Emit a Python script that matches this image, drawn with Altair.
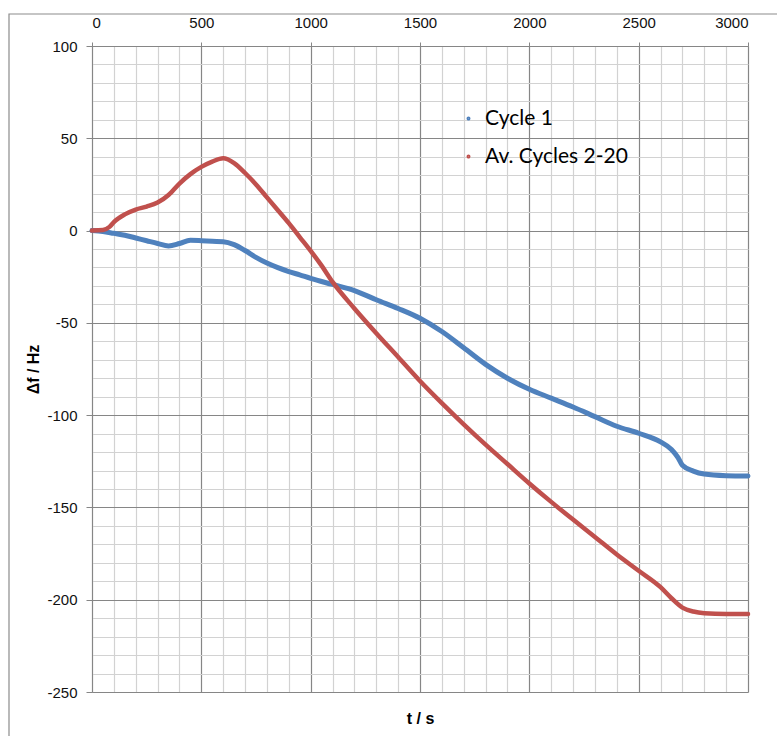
import altair as alt
import pandas as pd

# Cycle 1 trace (time in s, frequency shift in Hz)
t_cycle1 = [0, 50, 100, 150, 200, 250, 300, 350, 400, 450, 500, 550, 600, 650, 700,
            750, 800, 850, 900, 950, 1000, 1100, 1200, 1300, 1400, 1500, 1600, 1700,
            1800, 1900, 2000, 2100, 2200, 2300, 2400, 2500, 2600, 2650, 2680, 2700,
            2750, 2800, 2900, 3000]
f_cycle1 = [0, -0.5, -1.5, -2.5, -4, -5.5, -7, -8.3, -7, -5.3, -5.5, -5.8, -6, -7.6, -10.8,
            -14.5, -17.6, -20.1, -22.2, -24, -25.9, -29.2, -32.5, -37.5, -42.2, -47.5, -54.7, -63.5,
            -72.5, -80, -86, -90.8, -95.6, -100.8, -106, -109.8, -114.5, -118.6, -123, -127.2,
            -130.3, -131.9, -132.8, -133]

# Average of cycles 2-20
t_avg = [0, 50, 80, 100, 150, 200, 250, 300, 350, 400, 450, 500, 550, 600, 650, 700,
         750, 800, 850, 900, 950, 1000, 1050, 1100, 1200, 1300, 1400, 1500, 1600, 1700,
         1800, 1900, 2000, 2100, 2200, 2300, 2400, 2500, 2600, 2650, 2700, 2750, 2800,
         2900, 3000]
f_avg = [0, 0.3, 2.0, 4.6, 8.8, 11.4, 13, 15.2, 19.3, 25.5, 30.6, 34.5, 37.4, 39.2, 36.6, 31.2,
         25, 18, 11, 4, -3.5, -11, -19, -27.8, -42.2, -55.6, -68.5, -81.5, -93.5, -105,
         -116, -126.5, -137, -147, -156.6, -166, -175.5, -184.3, -193.2, -199.2, -204.3, -206.4,
         -207.3, -207.7, -207.7]

series_names = ["Cycle 1", "Av. Cycles 2-20"]
series_colors = ["#4F81BD", "#C0504D"]

x_ticks = list(range(0, 3001, 100))
y_ticks = list(range(-250, 101, 10))

df_c1 = pd.DataFrame({"t": t_cycle1, "f": f_cycle1, "series": series_names[0]})
df_av = pd.DataFrame({"t": t_avg, "f": f_avg, "series": series_names[1]})

MAJOR = "#868686"
MINOR = "#d2d2d2"

x_enc = alt.X(
    "t:Q",
    scale=alt.Scale(domain=[0, 3000], nice=False, zero=False),
    axis=alt.Axis(
        orient="top",
        values=x_ticks,
        labelExpr="datum.value % 500 === 0 ? '' + datum.value : ''",
        gridColor={"condition": {"test": "datum.value % 500 === 0", "value": MAJOR}, "value": MINOR},
        tickColor={"condition": {"test": "datum.value % 500 === 0", "value": MAJOR}, "value": "transparent"},
        gridWidth=1.2,
        tickSize=4,
        labelPadding=12,
        labelFont="Liberation Sans",
        labelFontSize=15,
        labelColor="#111",
        domainColor=MAJOR,
        title="t / s",
        titleFont="Liberation Sans",
        titleFontSize=16,
        titleFontWeight="bold",
        titleColor="#000",
        titleX=328,
        titleY=672,
        titleBaseline="middle",
        titleAlign="center",
    ),
)

y_enc = alt.Y(
    "f:Q",
    scale=alt.Scale(domain=[-250, 100], nice=False, zero=False),
    axis=alt.Axis(
        values=y_ticks,
        labelExpr="datum.value % 50 === 0 ? '' + datum.value : ''",
        gridColor={"condition": {"test": "datum.value % 50 === 0", "value": MAJOR}, "value": MINOR},
        tickColor={"condition": {"test": "datum.value % 50 === 0", "value": MAJOR}, "value": "transparent"},
        gridWidth=1.2,
        tickSize=6,
        labelPadding=9,
        labelFont="Liberation Sans",
        labelFontSize=15,
        labelColor="#111",
        domainColor=MAJOR,
        title="\u0394f / Hz",
        titleFont="Liberation Sans",
        titleFontSize=16,
        titleFontWeight="bold",
        titleColor="#000",
        titleAngle=270,
        titleX=-59,
        titleY=323,
        titleBaseline="middle",
        titleAlign="center",
    ),
)

color_enc = alt.Color(
    "series:N",
    scale=alt.Scale(domain=series_names, range=series_colors),
    legend=alt.Legend(
        title=None,
        orient="none",
        legendX=366,
        legendY=62,
        symbolType="circle",
        symbolSize=3,
        symbolStrokeWidth=2.2,
        labelFont="Lato",
        labelFontSize=21,
        labelColor="#000",
        labelOffset=6,
        rowPadding=16,
    ),
)

# Outer chart frame
frame = alt.Chart(pd.DataFrame({"k": [0]})).mark_rect(
    fill="transparent", stroke="#8c8c8c", strokeWidth=1.2
).encode(
    x=alt.value(-83), x2=alt.value(720), y=alt.value(-32), y2=alt.value(720)
)

line_c1 = alt.Chart(df_c1).mark_line(
    strokeWidth=5, interpolate="monotone", strokeCap="round"
).encode(x=x_enc, y=y_enc, color=color_enc)

line_av = alt.Chart(df_av).mark_line(
    strokeWidth=4.5, interpolate="monotone", strokeCap="round"
).encode(x=x_enc, y=y_enc, color=color_enc)

chart = alt.layer(frame, line_c1, line_av).properties(
    width=656,
    height=646,
    autosize=alt.AutoSizeParams(type="none"),
    padding={"left": 92, "top": 46, "right": 29, "bottom": 44},
    background="white",
).configure_view(stroke=None)

chart.save("out.html", embed_options={"renderer": "svg", "actions": False})
